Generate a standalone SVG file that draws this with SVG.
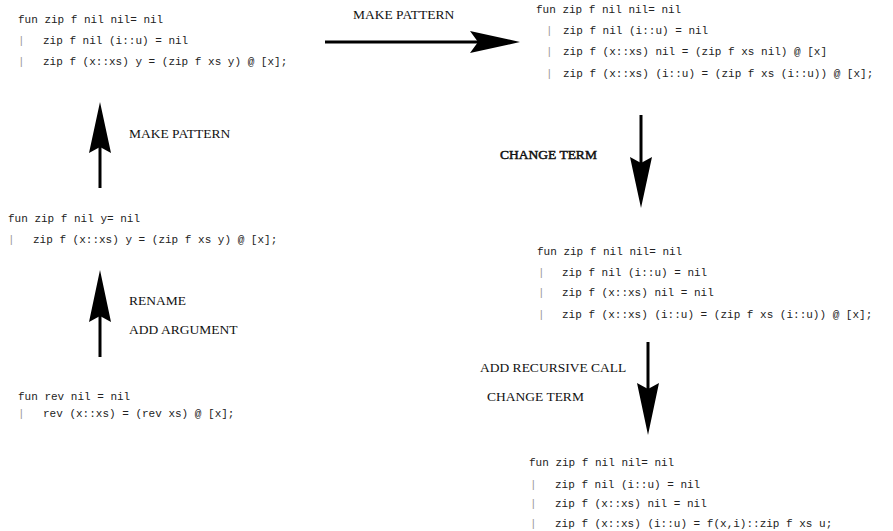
<svg xmlns="http://www.w3.org/2000/svg" width="893" height="531" viewBox="0 0 893 531">
<style>
.code{font-family:"Liberation Mono","Courier New",monospace;font-size:11px;fill:#222;white-space:pre}
.bar{font-family:"Liberation Mono","Courier New",monospace;font-size:11px;fill:#999}
.lbl{font-family:"Liberation Serif","Times New Roman",serif;font-size:13.5px;fill:#111}
.bold{stroke:#111;stroke-width:0.5}
.shaft{stroke:#000;stroke-width:3;fill:none}
.head{fill:#000}
</style>
<rect width="893" height="531" fill="#fff"/>
<g id="n1">
<text class="code" x="18" y="23">fun zip f nil nil= nil</text>
<text class="bar" x="18" y="44">|</text><text class="code" x="43" y="44">zip f nil (i::u) = nil</text>
<text class="bar" x="18" y="65">|</text><text class="code" x="43" y="65">zip f (x::xs) y = (zip f xs y) @ [x];</text>
</g>
<g id="n2">
<text class="code" x="536" y="13">fun zip f nil nil= nil</text>
<text class="bar" x="546" y="34">|</text><text class="code" x="563" y="34">zip f nil (i::u) = nil</text>
<text class="bar" x="546" y="55">|</text><text class="code" x="563" y="55">zip f (x::xs) nil = (zip f xs nil) @ [x]</text>
<text class="bar" x="546" y="77">|</text><text class="code" x="563" y="77">zip f (x::xs) (i::u) = (zip f xs (i::u)) @ [x];</text>
</g>
<g id="n3">
<text class="code" x="8" y="222">fun zip f nil y= nil</text>
<text class="bar" x="8" y="243">|</text><text class="code" x="33" y="243">zip f (x::xs) y = (zip f xs y) @ [x];</text>
</g>
<g id="n4">
<text class="code" x="18" y="400">fun rev nil = nil</text>
<text class="bar" x="18" y="417">|</text><text class="code" x="43" y="417">rev (x::xs) = (rev xs) @ [x];</text>
</g>
<g id="n5">
<text class="code" x="537" y="255">fun zip f nil nil= nil</text>
<text class="bar" x="538" y="276">|</text><text class="code" x="562" y="276">zip f nil (i::u) = nil</text>
<text class="bar" x="538" y="296">|</text><text class="code" x="562" y="296">zip f (x::xs) nil = nil</text>
<text class="bar" x="538" y="318">|</text><text class="code" x="562" y="318">zip f (x::xs) (i::u) = (zip f xs (i::u)) @ [x];</text>
</g>
<g id="n6">
<text class="code" x="529" y="466">fun zip f nil nil= nil</text>
<text class="bar" x="530" y="488">|</text><text class="code" x="555" y="488">zip f nil (i::u) = nil</text>
<text class="bar" x="530" y="507">|</text><text class="code" x="555" y="507">zip f (x::xs) nil = nil</text>
<text class="bar" x="530" y="527">|</text><text class="code" x="555" y="527">zip f (x::xs) (i::u) = f(x,i)::zip f xs u;</text>
</g>
<g id="connectors">
<line class="shaft" x1="325" y1="42" x2="478" y2="42"/>
<polygon class="head" points="520,42 470,31 478,42 470,53"/>
<line class="shaft" x1="100" y1="188" x2="100" y2="146"/>
<polygon class="head" points="100,102 111,153 100,147 89,153"/>
<line class="shaft" x1="100" y1="357" x2="100" y2="315"/>
<polygon class="head" points="100,270 111,322 100,316 89,322"/>
<line class="shaft" x1="641" y1="115" x2="641" y2="163"/>
<polygon class="head" points="641,208 630,157 641,163 652,157"/>
<line class="shaft" x1="648" y1="342" x2="648" y2="389"/>
<polygon class="head" points="648,435 637,383 648,389 659,383"/>
</g>
<g id="labels">
<text class="lbl" x="353" y="19">MAKE PATTERN</text>
<text class="lbl" x="129" y="138">MAKE PATTERN</text>
<text class="lbl bold" x="500" y="159">CHANGE TERM</text>
<text class="lbl" x="129" y="305">RENAME</text>
<text class="lbl" x="129" y="334">ADD ARGUMENT</text>
<text class="lbl" x="480" y="372">ADD RECURSIVE CALL</text>
<text class="lbl" x="487" y="401">CHANGE TERM</text>
</g>
</svg>
